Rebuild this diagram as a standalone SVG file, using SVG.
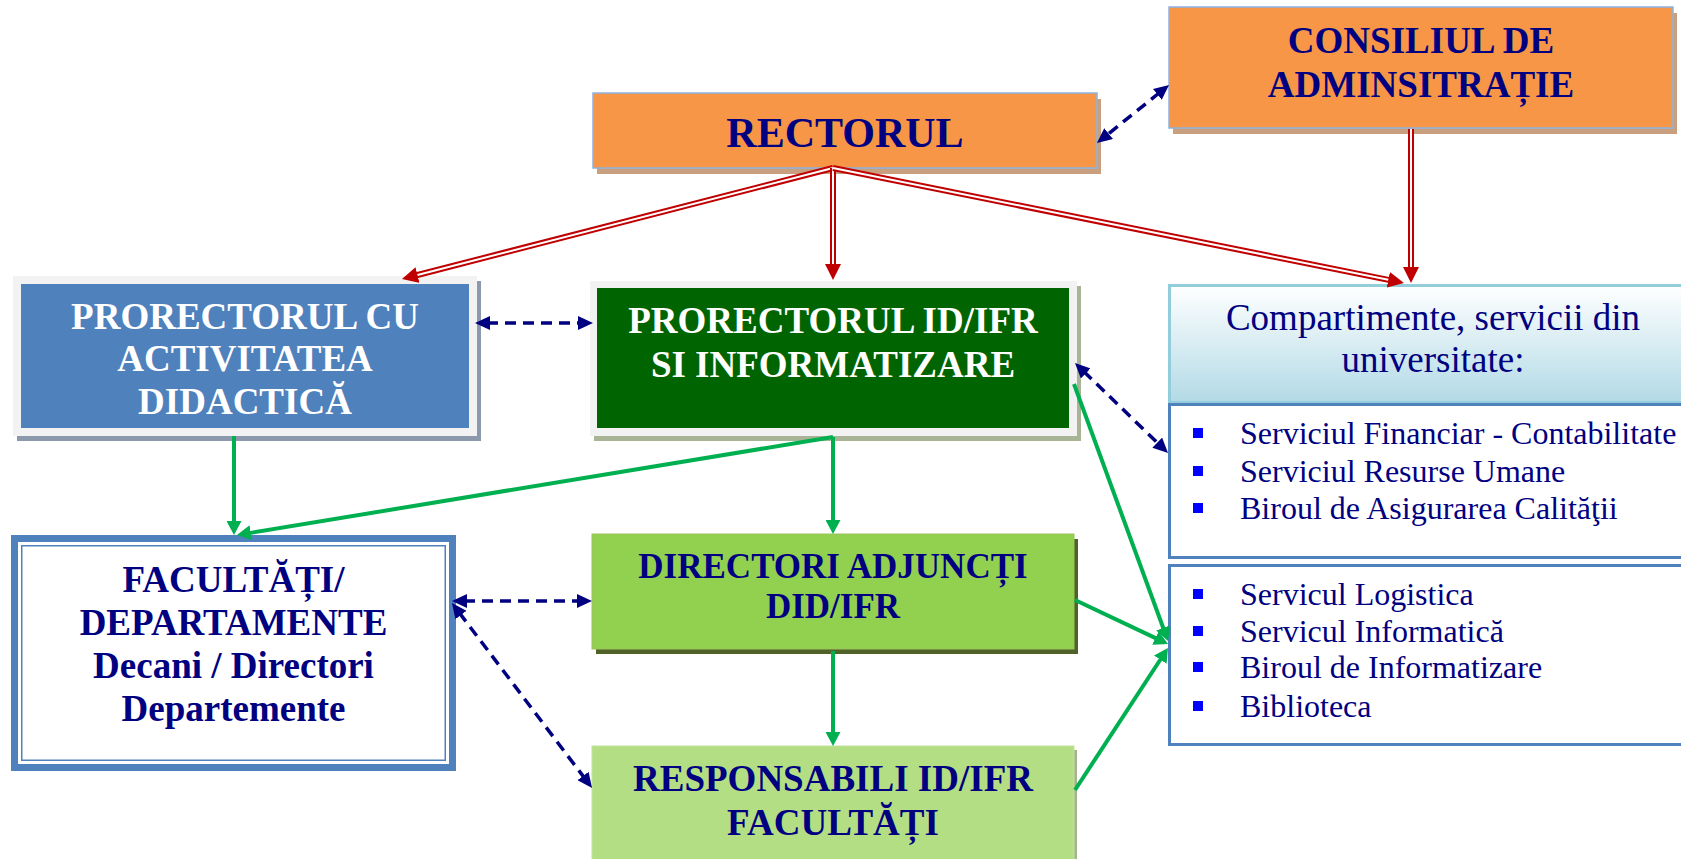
<svg xmlns="http://www.w3.org/2000/svg" width="1681" height="859" viewBox="0 0 1681 859">
<style>
text{font-family:"Liberation Serif","Times New Roman",serif;text-anchor:middle}
.b{font-weight:bold}
.navy{fill:#000080}
.wh{fill:#FFFFFF}
.orange{fill:#F79646;stroke:#8DB3E2;stroke-width:1.5}
.tan{fill:#C9A07F}
.li{font-size:32px;fill:#000080;text-anchor:start}
.bul{fill:#0000FF}
.red{stroke:#C00000;stroke-width:6;fill:none}
.redw{stroke:#FFFFFF;stroke-width:2;fill:none}
.blue{stroke:#000080;stroke-width:3.5;stroke-dasharray:11 7;fill:none}
.green{stroke:#00B050;stroke-width:4;fill:none}
</style>
<defs>
<marker id="mr" markerUnits="userSpaceOnUse" markerWidth="16" markerHeight="16" refX="4" refY="8" orient="auto"><path d="M0,0 L16,8 L0,16 z" fill="#C00000"/></marker>
<marker id="mb" markerUnits="userSpaceOnUse" markerWidth="15" markerHeight="14" refX="3" refY="7" orient="auto-start-reverse"><path d="M0,0 L15,7 L0,14 z" fill="#000080"/></marker>
<marker id="mg" markerUnits="userSpaceOnUse" markerWidth="14" markerHeight="15" refX="2" refY="7.5" orient="auto"><path d="M0,0 L14,7.5 L0,15 z" fill="#00B050"/></marker>
<linearGradient id="hg" x1="0" y1="0" x2="0" y2="1"><stop offset="0" stop-color="#FFFFFF"/><stop offset="1" stop-color="#B2DAE6"/></linearGradient>
</defs>
<rect width="1681" height="859" fill="#FFFFFF"/>

<g id="rectorul">
<rect class="tan" x="597" y="99" width="504" height="75"/>
<rect class="orange" x="593" y="93" width="504" height="75"/>
<text class="b navy" x="845" y="147" font-size="42">RECTORUL</text>
</g>

<g id="consiliul">
<rect class="tan" x="1173" y="13" width="504" height="121"/>
<rect class="orange" x="1169" y="7" width="504" height="121"/>
<text class="b navy" x="1421" y="53" font-size="37">CONSILIUL DE</text>
<text class="b navy" x="1421" y="97" font-size="37">ADMINSITRAȚIE</text>
</g>

<g id="prorector-didactic">
<rect x="17" y="281" width="464" height="160" fill="#8C99AD"/>
<rect x="13" y="276" width="464" height="160" fill="#F2F2F2"/>
<rect x="21" y="284" width="448" height="144" fill="#4F81BD"/>
<text class="b wh" x="245" y="329" font-size="37">PRORECTORUL CU</text>
<text class="b wh" x="245" y="371" font-size="37">ACTIVITATEA</text>
<text class="b wh" x="245" y="414" font-size="37">DIDACTICĂ</text>
</g>

<g id="prorector-idifr">
<rect x="594" y="286" width="487" height="155" fill="#A9B496"/>
<rect x="590" y="281" width="487" height="155" fill="#F2F2F2"/>
<rect x="597" y="288" width="472" height="140" fill="#006400"/>
<text class="b wh" x="833" y="333" font-size="37">PRORECTORUL ID/IFR</text>
<text class="b wh" x="833" y="377" font-size="37">SI INFORMATIZARE</text>
</g>

<g id="compartimente">
<rect x="1169.5" y="285.5" width="540" height="117" fill="url(#hg)" stroke="#92CDDC" stroke-width="3"/>
<text class="navy" x="1433" y="330" font-size="37">Compartimente, servicii din</text>
<text class="navy" x="1433" y="372" font-size="37">universitate:</text>
</g>

<g id="servicii-1">
<rect x="1169.5" y="404.5" width="540" height="153" fill="#FFFFFF" stroke="#4F81BD" stroke-width="3"/>
<rect class="bul" x="1193" y="428" width="10" height="10"/>
<text class="li" x="1240" y="444">Serviciul Financiar - Contabilitate</text>
<rect class="bul" x="1193" y="466" width="10" height="10"/>
<text class="li" x="1240" y="482">Serviciul Resurse Umane</text>
<rect class="bul" x="1193" y="503" width="10" height="10"/>
<text class="li" x="1240" y="519">Biroul de Asigurarea Calităţii</text>
</g>

<g id="servicii-2">
<rect x="1169.5" y="565.5" width="540" height="179" fill="#FFFFFF" stroke="#4F81BD" stroke-width="3"/>
<rect class="bul" x="1193" y="589" width="10" height="10"/>
<text class="li" x="1240" y="605">Servicul Logistica</text>
<rect class="bul" x="1193" y="626" width="10" height="10"/>
<text class="li" x="1240" y="642">Servicul Informatică</text>
<rect class="bul" x="1193" y="662" width="10" height="10"/>
<text class="li" x="1240" y="678">Biroul de Informatizare</text>
<rect class="bul" x="1193" y="701" width="10" height="10"/>
<text class="li" x="1240" y="717">Biblioteca</text>
</g>

<g id="facultati">
<rect x="11" y="535" width="445" height="236" fill="#4F81BD"/>
<rect x="18" y="542" width="431" height="222" fill="#FFFFFF"/>
<rect x="21.75" y="545.75" width="423.5" height="214.5" fill="none" stroke="#4F81BD" stroke-width="1.5"/>
<text class="b navy" x="233.5" y="592" font-size="37">FACULTĂȚI/</text>
<text class="b navy" x="233.5" y="635" font-size="37">DEPARTAMENTE</text>
<text class="b navy" x="233.5" y="678" font-size="37">Decani / Directori</text>
<text class="b navy" x="233.5" y="721" font-size="37">Departemente</text>
</g>

<g id="directori">
<rect x="596" y="539" width="482" height="115" fill="#4F6228"/>
<rect x="592" y="534" width="482" height="115" fill="#92D050" stroke="#9BC35A" stroke-width="1"/>
<text class="b navy" x="833" y="578" font-size="35">DIRECTORI ADJUNCȚI</text>
<text class="b navy" x="833" y="618" font-size="35">DID/IFR</text>
</g>

<g id="responsabili">
<rect x="595" y="750" width="482" height="120" fill="#A5B38F"/>
<rect x="592" y="746" width="482" height="124" fill="#B3DE83" stroke="#C2E29D" stroke-width="1"/>
<text class="b navy" x="833" y="791" font-size="37">RESPONSABILI ID/IFR</text>
<text class="b navy" x="833" y="835" font-size="37">FACULTĂȚI</text>
</g>

<g id="connectors">
<line class="red" x1="833" y1="168" x2="413.6" y2="276" marker-end="url(#mr)"/>
<line class="redw" x1="833" y1="168" x2="417.5" y2="275"/>
<line class="red" x1="833" y1="168" x2="833" y2="268" marker-end="url(#mr)"/>
<line class="redw" x1="833" y1="168" x2="833" y2="264"/>
<line class="red" x1="833" y1="168" x2="1392.2" y2="280.6" marker-end="url(#mr)"/>
<line class="redw" x1="833" y1="168" x2="1388.3" y2="279.8"/>
<line class="red" x1="1411" y1="129" x2="1411" y2="271" marker-end="url(#mr)"/>
<line class="redw" x1="1411" y1="129" x2="1411" y2="267"/>

<line class="blue" x1="1159.7" y1="92.5" x2="1106.3" y2="135.5" marker-start="url(#mb)" marker-end="url(#mb)"/>
<line class="blue" x1="487" y1="323" x2="581" y2="323" marker-start="url(#mb)" marker-end="url(#mb)"/>
<line class="blue" x1="1083.6" y1="371.3" x2="1159.4" y2="444.7" marker-start="url(#mb)" marker-end="url(#mb)"/>
<line class="blue" x1="464" y1="601" x2="580" y2="601" marker-start="url(#mb)" marker-end="url(#mb)"/>
<line class="blue" x1="459.2" y1="612.6" x2="584.8" y2="778.4" marker-start="url(#mb)" marker-end="url(#mb)"/>

<line class="green" x1="234" y1="436" x2="234" y2="523" marker-end="url(#mg)"/>
<line class="green" x1="833" y1="437" x2="248.8" y2="533.1" marker-end="url(#mg)"/>
<line class="green" x1="833" y1="437" x2="833" y2="522" marker-end="url(#mg)"/>
<line class="green" x1="833" y1="651" x2="833" y2="734" marker-end="url(#mg)"/>
<line class="green" x1="1074" y1="384" x2="1163.9" y2="629.7" marker-end="url(#mg)"/>
<line class="green" x1="1075" y1="600" x2="1157.2" y2="638.9" marker-end="url(#mg)"/>
<line class="green" x1="1075" y1="790" x2="1161.4" y2="658" marker-end="url(#mg)"/>
</g>
</svg>
